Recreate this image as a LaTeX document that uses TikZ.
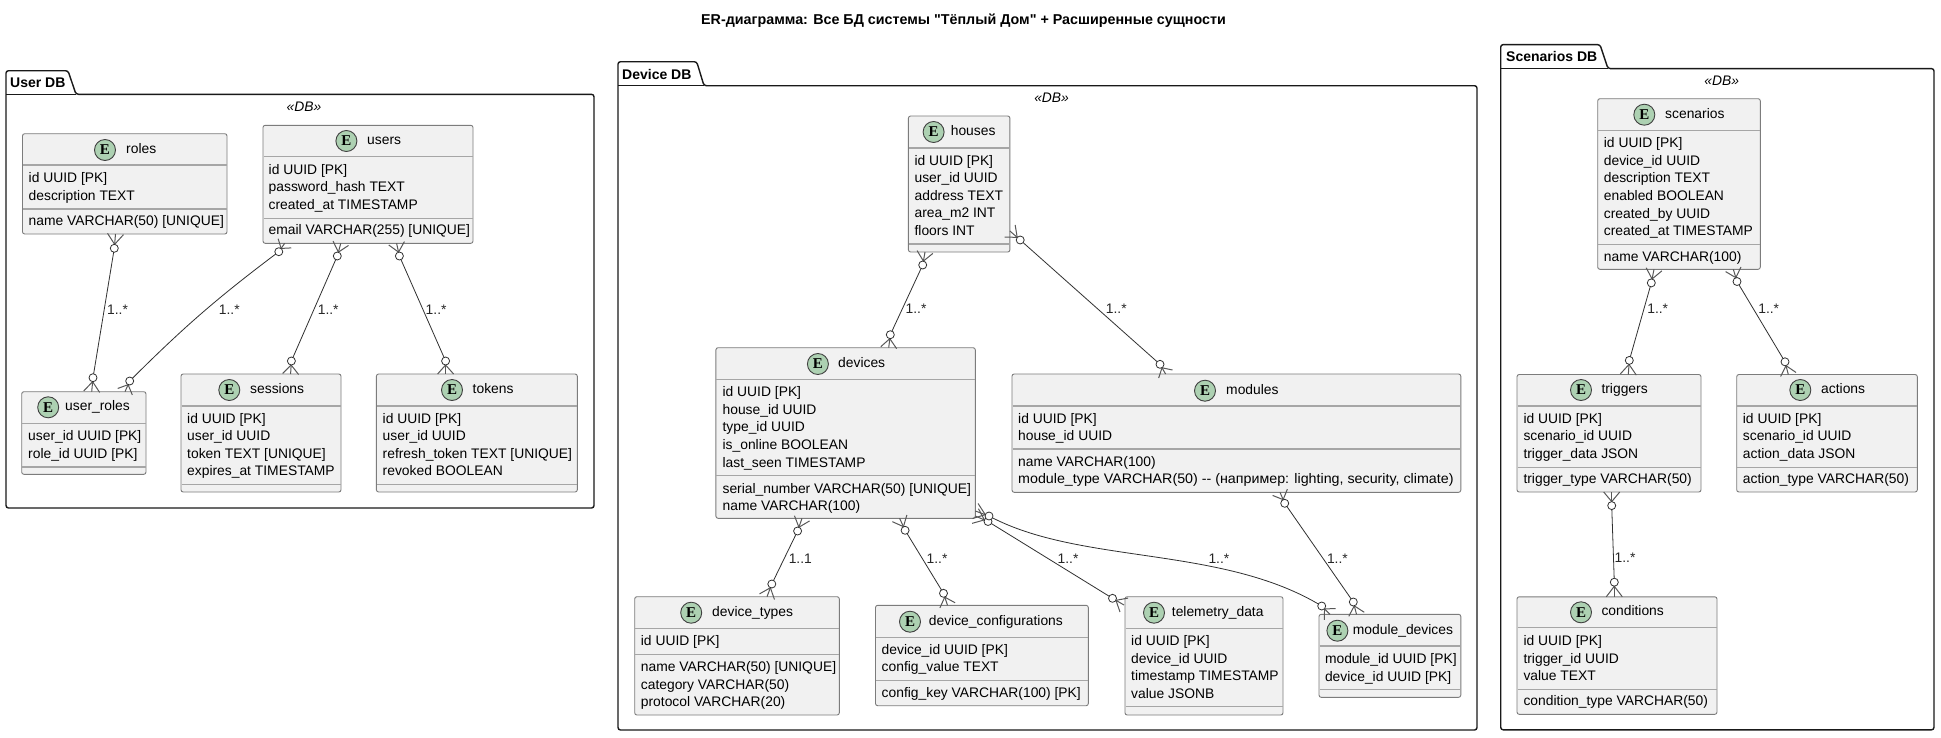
\documentclass[tikz,border=0pt]{standalone}
\usepackage{fontspec}
\usepackage{graphicx}
\setmainfont{Liberation Sans}
\newfontfamily\spotfont{Liberation Serif}
\newfontfamily\plainsans{Liberation Sans}
\usetikzlibrary{calc}
\definecolor{entfill}{HTML}{F1F1F1}
\definecolor{entline}{HTML}{7C7C7C}
\definecolor{sepline}{HTML}{A6A6A6}
\definecolor{spot}{HTML}{ADD1B2}
\definecolor{relline}{HTML}{303030}
\definecolor{crowline}{HTML}{585858}
\tikzset{
 x=1pt,y=-1pt,
 ent/.style={draw=entline,fill=entfill,line width=0.9pt,rounded corners=2.2pt,inner sep=0,outer sep=0,anchor=north west},
 sepl/.style={draw=sepline,line width=1.1pt},
 spotc/.style={circle,draw=black!75,fill=spot,line width=0.9pt,minimum size=21pt,inner sep=0,font=\spotfont\bfseries\fontsize{15}{15}\selectfont},
 txt/.style={anchor=west,inner sep=0,font=\fontsize{13.85}{16}\selectfont,text height=9.7pt,text depth=2.9pt},
 rel/.style={draw=relline,line width=0.8pt},
 crowl/.style={draw=crowline,line width=1pt},
 zero/.style={draw=relline,fill=white,line width=0.8pt},
 lbl/.style={anchor=center,inner sep=0,font=\fontsize{13.85}{16}\selectfont,text=black!85},
 pkg/.style={draw=black!90,line width=1.4pt,rounded corners=2.5pt,fill=white},
 pkgname/.style={anchor=west,inner sep=0,font=\bfseries\fontsize{14}{16}\selectfont},
 stereo/.style={anchor=center,inner sep=0,font=\itshape\fontsize{13.85}{16}\selectfont},
}
% name x0 y0 x1 y1 header separator
\newcommand\entbox[7]{%
 \node[ent,minimum width={#4-#2},minimum height={#5-#3}] (#1) at (#2,#3) {};
 \draw[sepl] (#2+0.5,#6) -- (#4-0.5,#6);
 \draw[sepl] (#2+0.5,#7) -- (#4-0.5,#7);
}
% name spot-x spot-y title-x title
\newcommand\enthead[5]{%
 \node[spotc] (#1-spot) at (#2,#3) {E};
 \node[txt] (#1-title) at (#4,#3) {#5};
}
% name text-x rows
\newcommand\entrows[3]{%
 \foreach \yy/\tt [count=\ii] in {#3} {\node[txt] (#1-r\ii) at (#2,\yy) {\tt};}
}
% crow foot: box end, circle
\newcommand\crowfoot[2]{%
 \coordinate (apx) at ($(#2)!4pt!(#1)$);
 \draw[crowl] (apx) -- (#1);
 \draw[crowl] (apx) -- ($(#1)!8pt!90:(apx)$);
 \draw[crowl] (apx) -- ($(#1)!8pt!-90:(apx)$);
 \draw[zero] (#2) circle[radius=4pt];
}
% A anchor, offset, circle delta, B anchor, offset, circle delta, path
\newcommand\rel[7]{%
 \coordinate (P1) at ($(#1)+(#2)$);
 \coordinate (C1) at ($(P1)+(#3)$);
 \coordinate (P2) at ($(#4)+(#5)$);
 \coordinate (C2) at ($(P2)+(#6)$);
 \draw[rel] (C1) #7 (C2);
 \crowfoot{P1}{C1}
 \crowfoot{P2}{C2}
}
\begin{document}
\begin{tikzpicture}
\useasboundingbox (0,0) rectangle (1941,737);
\fill[white] (0,0) rectangle (1941,737);
\node[anchor=center,inner sep=0,font=\plainsans\bfseries\fontsize{14.3}{16}\selectfont] (title) at (963.5,21) {ER-диаграмма: Все БД системы "Тёплый Дом" + Расширенные сущности};

% packages
\draw[pkg] (6,94.3) -- (6,70.7) -- (68,70.7) -- (76,94.3) -- (594,94.3) -- (594,508) -- (6,508) -- cycle;
\draw[draw=black!90,line width=1.4pt] (6,94.3) -- (76,94.3);
\node[pkgname] (userdb) at (10,83) {User DB};
\node[stereo] (userdb-st) at (304,106.7) {«DB»};
\draw[pkg] (618,85.7) -- (618,61.7) -- (696.7,61.7) -- (704,85.7) -- (1477,85.7) -- (1477,730) -- (618,730) -- cycle;
\draw[draw=black!90,line width=1.4pt] (618,85.7) -- (704,85.7);
\node[pkgname] (devicedb) at (622,74) {Device DB};
\node[stereo] (devicedb-st) at (1051.6,97.7) {«DB»};
\draw[pkg] (1500.7,68.6) -- (1500.7,44.6) -- (1600,44.6) -- (1608,68.6) -- (1934,68.6) -- (1934,729.8) -- (1500.7,729.8) -- cycle;
\draw[draw=black!90,line width=1.4pt] (1500.7,68.6) -- (1608,68.6);
\node[pkgname] (scendb) at (1506,56) {Scenarios DB};
\node[stereo] (scendb-st) at (1721.7,80.4) {«DB»};

% User DB
\entbox{roles}{22.5}{133.7}{227}{234}{165}{209}
\enthead{roles}{105}{150}{126}{roles}
\entrows{roles}{28.5}{179.3/id UUID [PK],197/description TEXT,222/name VARCHAR(50) [UNIQUE]}
\entbox{users}{263}{125.3}{473}{243.3}{156.7}{218.3}
\enthead{users}{346.4}{141}{367}{users}
\entrows{users}{268.5}{171/id UUID [PK],188.3/password\_hash TEXT,206.3/created\_at TIMESTAMP,231/email VARCHAR(255) [UNIQUE]}
\entbox{userroles}{21.7}{391.7}{146}{474.3}{423.7}{467}
\enthead{userroles}{48.2}{407.3}{65}{user\_roles}
\entrows{userroles}{28}{437.3/user\_id UUID [PK],455.3/role\_id UUID [PK]}
\entbox{sessions}{181}{374}{341}{492}{406}{484.3}
\enthead{sessions}{229.3}{390}{250}{sessions}
\entrows{sessions}{187}{420.3/id UUID [PK],437/user\_id UUID,455/token TEXT [UNIQUE],472.3/expires\_at TIMESTAMP}
\entbox{tokens}{376.4}{374}{577.3}{492}{406}{484.3}
\enthead{tokens}{452}{390}{472.5}{tokens}
\entrows{tokens}{382.5}{420.3/id UUID [PK],437/user\_id UUID,455/refresh\_token TEXT [UNIQUE],472.3/revoked BOOLEAN}

% Device DB
\entbox{houses}{908.4}{116}{1009.9}{252}{148}{244}
\enthead{houses}{933.6}{132}{950.6}{houses}
\entrows{houses}{914.4}{162.3/id UUID [PK],179.3/user\_id UUID,197/address TEXT,214.3/area\_m2 INT,232.3/floors INT}
\entbox{devices}{715.9}{347.7}{975.3}{518.3}{379.3}{475.7}
\enthead{devices}{817.9}{364}{838}{devices}
\entrows{devices}{722.4}{393.3/id UUID [PK],411/house\_id UUID,428.3/type\_id UUID,446.3/is\_online BOOLEAN,464.3/last\_seen TIMESTAMP,489.7/serial\_number VARCHAR(50) [UNIQUE],507/name VARCHAR(100)}
\entbox{modules}{1012}{374}{1460.8}{492.3}{406}{449}
\enthead{modules}{1205}{390.7}{1226}{modules}
\entrows{modules}{1018}{420/id UUID [PK],437.3/house\_id UUID,463.3/name VARCHAR(100),480.3/{\scalebox{1.03}[1]{module\_type VARCHAR(50) -{}- (например: lighting, security, climate)}}}
\entbox{devtypes}{634.7}{596.7}{839.3}{715}{628.7}{654.3}
\enthead{devtypes}{691.2}{612.7}{712}{device\_types}
\entrows{devtypes}{640.7}{642.3/id UUID [PK],668.3/name VARCHAR(50) [UNIQUE],685.7/category VARCHAR(50),703.3/protocol VARCHAR(20)}
\entbox{devconf}{875.5}{605.3}{1088.3}{705.7}{637.3}{680.3}
\enthead{devconf}{910}{621.7}{928.7}{device\_configurations}
\entrows{devconf}{881.5}{651.3/device\_id UUID [PK],668.3/config\_value TEXT,694.3/config\_key VARCHAR(100) [PK]}
\entbox{telemetry}{1125}{596.7}{1283}{715}{628.7}{706.7}
\enthead{telemetry}{1154}{612.7}{1171.7}{telemetry\_data}
\entrows{telemetry}{1131}{642.3/id UUID [PK],660/device\_id UUID,677.3/timestamp TIMESTAMP,695.3/value JSONB}
\entbox{moddev}{1319}{614.3}{1460.8}{697.3}{646}{689.7}
\enthead{moddev}{1337.4}{630.7}{1352.7}{module\_devices}
\entrows{moddev}{1324.8}{660/module\_id UUID [PK],677.7/device\_id UUID [PK]}

% Scenarios DB
\entbox{scenarios}{1597.7}{98.7}{1760.3}{269.3}{130.6}{244.4}
\enthead{scenarios}{1644.3}{114.7}{1665}{scenarios}
\entrows{scenarios}{1603.7}{143.8/id UUID [PK],161.7/device\_id UUID,179/description TEXT,196.9/enabled BOOLEAN,214.8/created\_by UUID,231.7/created\_at TIMESTAMP,258/name VARCHAR(100)}
\entbox{triggers}{1517}{374.5}{1701}{492}{406}{467.6}
\enthead{triggers}{1581}{390}{1601.3}{triggers}
\entrows{triggers}{1523.3}{419.6/id UUID [PK],437/scenario\_id UUID,454.9/trigger\_data JSON,479.8/trigger\_type VARCHAR(50)}
\entbox{actions}{1736.7}{374.5}{1917.3}{492}{406}{467.6}
\enthead{actions}{1800.3}{390}{1821}{actions}
\entrows{actions}{1742.7}{419.6/id UUID [PK],437/scenario\_id UUID,454.9/action\_data JSON,479.8/action\_type VARCHAR(50)}
\entbox{conditions}{1517}{596.8}{1717}{714.3}{627.8}{689.8}
\enthead{conditions}{1581}{612.3}{1601.3}{conditions}
\entrows{conditions}{1523.3}{642/id UUID [PK],659.8/trigger\_id UUID,677.2/value TEXT,702.5/condition\_type VARCHAR(50)}

% relations
\rel{roles.south west}{93,0}{-1.2,14.3}{userroles.north west}{70,0}{1.3,-14}{--}
\rel{users.south west}{21.7,0}{-5.9,8.4}{userroles.north west}{103.3,0}{4.7,-10.7}{to[bend right=4]}
\rel{users.south west}{77.8,0}{-3.5,12.7}{sessions.north west}{109.6,0}{0.8,-13}{--}
\rel{users.south west}{133.6,0}{2.8,12.7}{tokens.north west}{69.2,0}{0,-13}{--}
\rel{houses.south west}{16.6,0}{-2.3,13}{devices.north west}{172.8,0}{1.6,-13}{--}
\rel{houses.south east}{0,-21}{10.3,9}{modules.north west}{153.6,0}{-5.6,-9.7}{--}
\rel{devices.south west}{86.1,0}{-4.4,12.7}{devtypes.north west}{132.3,0}{4.8,-12.7}{--}
\rel{devices.south west}{183.7,0}{5.5,12}{devconf.north west}{72,0}{-4,-12}{--}
\rel{devices.south east}{0,-2.3}{12.7,5.5}{telemetry.north west}{-1,8.3}{-11.5,-6.7}{--}
\rel{devices.south east}{0,-7.3}{13.7,5}{moddev.north west}{11,0}{-8.3,-8.3}{.. controls ($(C1)+(91,49)$) and ($(C2)+(-100,-61)$) ..}
\rel{modules.south west}{268,0}{4.7,11}{moddev.north west}{37.5,0}{-3.2,-12.3}{--}
\rel{scenarios.south west}{56.3,0}{-2.7,13.6}{triggers.north west}{111.3,0}{1,-14.1}{--}
\rel{scenarios.south west}{135.6,0}{3.7,12.2}{actions.north west}{51.6,0}{-3.3,-12.7}{--}
\rel{triggers.south west}{94.7,0}{0,13.6}{conditions.north west}{97.3,0}{0,-14.6}{--}

% relation labels
\node[lbl] (l1) at (117.5,309.3) {1..*};
\node[lbl] (l2) at (229.3,309.3) {1..*};
\node[lbl] (l3) at (328.2,309.3) {1..*};
\node[lbl] (l4) at (436.1,309.3) {1..*};
\node[lbl] (l5) at (916,309) {1..*};
\node[lbl] (l6) at (1116.3,309) {1..*};
\node[lbl] (l7) at (800.3,558.3) {1..1};
\node[lbl] (l8) at (937,558.3) {1..*};
\node[lbl] (l9) at (1068,558.3) {1..*};
\node[lbl] (l10) at (1218.9,558.3) {1..*};
\node[lbl] (l11) at (1337.4,558.3) {1..*};
\node[lbl] (l12) at (1657.7,308.7) {1..*};
\node[lbl] (l13) at (1768.7,308.7) {1..*};
\node[lbl] (l14) at (1625,557.8) {1..*};
\end{tikzpicture}
\end{document}
